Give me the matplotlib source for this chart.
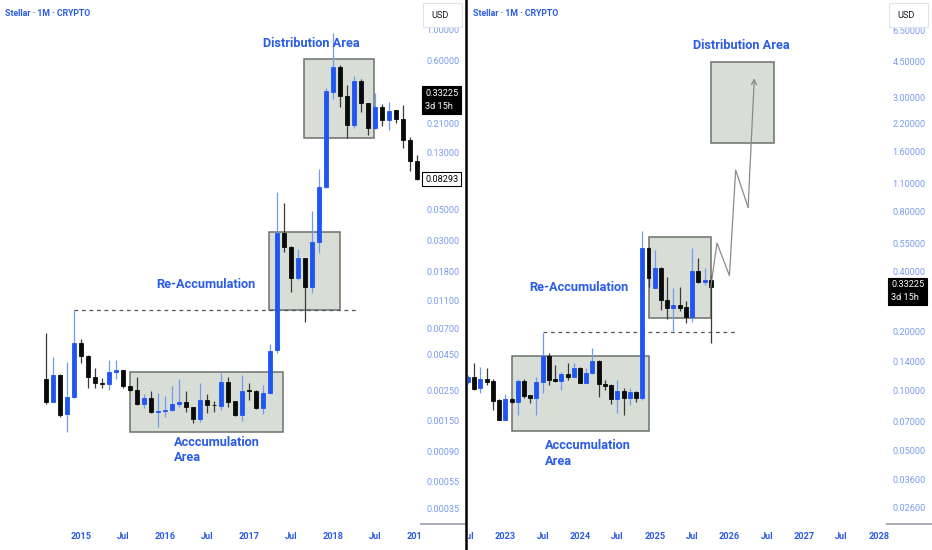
"""Stellar monthly chart: 2014-2019 cycle next to the 2022-2025 cycle."""

import matplotlib

matplotlib.use("Agg")
import matplotlib.font_manager as fm
import matplotlib.pyplot as plt
import pandas as pd
from matplotlib.lines import Line2D
from matplotlib.patches import Rectangle
from matplotlib.transforms import Bbox, TransformedBbox

# ---- data: left panel (monthly, Aug 2014 .. Jan 2019) ----
left_start = "2014-08"
left_open = [0.0030, 0.00206, 0.0032, 0.00168, 0.00224, 0.0055, 0.0044, 0.0031, 0.00283, 0.00276,
             0.0034, 0.0035, 0.00268, 0.00251, 0.00198, 0.00218, 0.00175, 0.00178, 0.0018, 0.00197,
             0.00204, 0.0019, 0.00155, 0.00212, 0.00196, 0.00193, 0.00285, 0.00208, 0.00166, 0.0025,
             0.00247, 0.00185, 0.00238, 0.00487, 0.034, 0.027, 0.016, 0.0223, 0.0139, 0.0294,
             0.073, 0.354, 0.53, 0.332, 0.204, 0.423, 0.295, 0.193, 0.2765, 0.2216,
             0.26, 0.224, 0.159, 0.1127]
left_high = [0.0065, 0.0043, 0.00327, 0.0040, 0.0095, 0.0058, 0.0045, 0.0036, 0.00306, 0.0041,
             0.0041, 0.0035, 0.0027, 0.0031, 0.00235, 0.00248, 0.0024, 0.00227, 0.0027, 0.0030,
             0.00248, 0.0019, 0.0028, 0.00235, 0.0021, 0.0033, 0.0031, 0.0021, 0.0032, 0.0028,
             0.0025, 0.00273, 0.0054, 0.067, 0.056, 0.0275, 0.026, 0.0225, 0.049, 0.099,
             0.375, 0.934, 0.55, 0.396, 0.46, 0.44, 0.296, 0.349, 0.289, 0.30,
             0.262, 0.284, 0.168, 0.124]
left_low = [0.00198, 0.00204, 0.00161, 0.00125, 0.0022, 0.0039, 0.0026, 0.0026, 0.00258, 0.0025,
            0.0030, 0.0026, 0.00247, 0.00195, 0.00185, 0.0017, 0.00136, 0.00161, 0.00178, 0.0019,
            0.00175, 0.00145, 0.00148, 0.00172, 0.00175, 0.0018, 0.0019, 0.00163, 0.0015, 0.00212,
            0.00182, 0.00168, 0.00236, 0.0046, 0.0249, 0.0128, 0.0155, 0.0078, 0.0126, 0.0245,
            0.072, 0.313, 0.277, 0.164, 0.193, 0.254, 0.173, 0.19, 0.20, 0.1877,
            0.21, 0.1385, 0.095, 0.0825]
left_close = [0.00206, 0.0032, 0.00166, 0.00224, 0.0055, 0.0044, 0.0031, 0.0028, 0.00276, 0.0034,
              0.0035, 0.00268, 0.00251, 0.00197, 0.00218, 0.00173, 0.00178, 0.0018, 0.00197, 0.00204,
              0.0019, 0.00155, 0.00212, 0.00195, 0.00194, 0.00285, 0.00206, 0.00166, 0.00248, 0.00246,
              0.00185, 0.00238, 0.0048, 0.034, 0.027, 0.0162, 0.0223, 0.0139, 0.0294, 0.073,
              0.36, 0.531, 0.332, 0.204, 0.423, 0.292, 0.193, 0.2765, 0.2216, 0.2586,
              0.224, 0.159, 0.1127, 0.08293]
left_yticks = [1.0, 0.6, 0.21, 0.13, 0.05, 0.03, 0.018, 0.011, 0.007, 0.0045,
               0.0025, 0.0015, 0.0009, 0.00055, 0.00035]
left_xlabels = ["2015", "Jul", "2016", "Jul", "2017", "Jul", "2018", "Jul", "2019"]

# ---- data: right panel (monthly, Jul 2022 .. Oct 2025) ----
right_start = "2022-07"
right_open = [0.111, 0.118, 0.1039, 0.1145, 0.1123, 0.0901, 0.0715, 0.0912, 0.0878, 0.1127,
              0.0951, 0.0917, 0.111, 0.150, 0.1145, 0.1123, 0.1218, 0.118, 0.130, 0.110,
              0.1228, 0.142, 0.1085, 0.107, 0.0909, 0.1004, 0.0917, 0.0992, 0.0917, 0.525,
              0.330, 0.416, 0.2866, 0.2622, 0.2705, 0.265, 0.236, 0.401, 0.3516, 0.361]
right_high = [0.120, 0.1387, 0.1324, 0.130, 0.1145, 0.091, 0.0966, 0.092, 0.1145, 0.1145,
              0.096, 0.118, 0.1948, 0.1548, 0.1351, 0.125, 0.1377, 0.1387, 0.1324, 0.130,
              0.164, 0.143, 0.1136, 0.108, 0.1136, 0.1031, 0.1031, 0.100, 0.637, 0.53,
              0.511, 0.42, 0.375, 0.330, 0.334, 0.2833, 0.521, 0.4677, 0.4137, 0.383]
right_low = [0.109, 0.1012, 0.098, 0.1072, 0.0803, 0.0712, 0.0712, 0.0875, 0.0758, 0.0917,
             0.0868, 0.0758, 0.0975, 0.1072, 0.1115, 0.1012, 0.1136, 0.117, 0.1095, 0.1095,
             0.122, 0.093, 0.1012, 0.086, 0.0778, 0.0758, 0.085, 0.0883, 0.090, 0.334,
             0.328, 0.2553, 0.230, 0.2002, 0.2524, 0.219, 0.2229, 0.35, 0.341, 0.1737]
right_close = [0.117, 0.1029, 0.1145, 0.1113, 0.0894, 0.0715, 0.0912, 0.0878, 0.1127, 0.0944,
               0.0917, 0.111, 0.150, 0.1136, 0.1123, 0.1218, 0.118, 0.130, 0.110, 0.1228,
               0.142, 0.1085, 0.106, 0.0909, 0.1004, 0.0917, 0.0992, 0.0917, 0.525, 0.368,
               0.416, 0.2866, 0.2622, 0.2705, 0.2622, 0.236, 0.401, 0.3516, 0.361, 0.33225]
right_yticks = [6.5, 4.5, 3.0, 2.2, 1.6, 1.1, 0.8, 0.55, 0.4, 0.2,
                0.14, 0.1, 0.07, 0.05, 0.036, 0.026]
right_xlabels = ["Jul", "2023", "Jul", "2024", "Jul", "2025", "Jul", "2026", "Jul", "2027", "Jul", "2028"]

# projected path (month offset from Jan 2023, price)
path_months = [33, 34, 36, 37, 39, 40]
path_prices = [0.33225, 0.554, 0.380, 1.29, 0.838, 3.727]
last_price = 0.33225

BLUE = "#1f56f2"
BLUE_WICK = "#6f9bf5"
BLACK = "#0a0a0a"
DARK_WICK = "#3a3a3a"
TEXT_BLUE = "#2a5ce6"
AXIS_BLUE = "#7c9bef"
BOX_FILL = "#d8ded6"
BOX_EDGE = "#6c716c"
NOTE_SIZE = 9.2

W, H = 932, 550

names = {f.name for f in fm.fontManager.ttflist}
narrow = "Liberation Sans Narrow" if "Liberation Sans Narrow" in names else "Roboto"
plt.rcParams["font.family"] = [narrow, "DejaVu Sans"]


def month_index(start, n, origin):
    months = pd.period_range(start, periods=n, freq="M")
    base = pd.Period(origin, freq="M")
    return [(p - base).n for p in months]


def draw_candles(axis, x, o, h, l, c):
    up = [ci >= oi for oi, ci in zip(o, c)]
    body_col = [BLUE if u else BLACK for u in up]
    wick_col = [BLUE_WICK if u else DARK_WICK for u in up]
    lo = [min(a, b) for a, b in zip(o, c)]
    hi = [max(a, b) for a, b in zip(o, c)]
    axis.vlines(x, l, h, colors=wick_col, lw=0.9, zorder=3)
    axis.bar(x, [b - a for a, b in zip(lo, hi)], bottom=lo, width=0.64,
             color=body_col, edgecolor=body_col, lw=0.6, zorder=4)


def add_box(axis, x0, x1, y0, y1):
    axis.add_patch(Rectangle((x0, y0), x1 - x0, y1 - y0, facecolor=BOX_FILL,
                             edgecolor=BOX_EDGE, lw=1.1, zorder=1))


def note(axis, x, y, text, ha="center"):
    axis.text(x, y, text, ha=ha, va="center", fontsize=NOTE_SIZE, fontweight="bold",
              color=TEXT_BLUE, linespacing=1.25, zorder=6)


def style_axis(axis, yticks, xticks, xlabels, ylim, xlim, clip_px):
    axis.set_yscale("log")
    axis.set_ylim(*ylim)
    axis.set_xlim(*xlim)
    for s in axis.spines.values():
        s.set_visible(False)
    axis.yaxis.tick_right()
    axis.yaxis.set_minor_locator(matplotlib.ticker.NullLocator())
    axis.set_yticks(yticks)
    axis.set_yticklabels([f"{v:.5f}" for v in yticks])
    axis.tick_params(axis="y", length=0, pad=4, labelsize=6.6, labelcolor=AXIS_BLUE)
    axis.set_xticks(xticks)
    axis.set_xticklabels(xlabels, fontweight="bold")
    axis.tick_params(axis="x", length=0, pad=6, labelsize=6.6, labelcolor=TEXT_BLUE)
    clip = TransformedBbox(Bbox.from_extents(clip_px[0] / W, 0, clip_px[1] / W, 1), fig.transFigure)
    for lbl in axis.get_xticklabels():
        lbl.set_clip_box(clip)
        lbl.set_clip_on(True)


def price_tag(axis, price, text, dark=True, dy=0.0):
    axis.annotate(text, xy=(1, price), xycoords=axis.get_yaxis_transform(),
                  xytext=(3, dy), textcoords="offset points", ha="left",
                  va="top" if dy else "center", fontsize=6.6, linespacing=1.6,
                  color="white" if dark else "black", annotation_clip=False,
                  bbox=dict(boxstyle="square,pad=0.3", fc="black" if dark else "white",
                            ec="black", lw=0.8), zorder=10)


fig = plt.figure(figsize=(W / 100, H / 100), dpi=100)
ax_l = fig.add_axes([0, 26 / H, 421 / W, 524 / H])
ax_r = fig.add_axes([468 / W, 26 / H, 419 / W, 524 / H])

# ---- left panel ----
xl = month_index(left_start, len(left_open), "2015-01")
draw_candles(ax_l, xl, left_open, left_high, left_low, left_close)
add_box(ax_l, 7.0, 28.86, 0.00125, 0.00339)
add_box(ax_l, 26.9, 37.0, 0.00946, 0.0343)
add_box(ax_l, 31.9, 41.9, 0.165, 0.61)
ax_l.hlines(left_high[4], xl[4], 39.6, colors="#555555", linestyles=(0, (3, 3)), lw=0.9, zorder=2)
note(ax_l, 32.96, 0.783, "Distribution Area")
note(ax_l, 17.86, 0.01456, "Re-Accumulation")
note(ax_l, 13.29, 0.000925, "Acccumulation\nArea", ha="left")
style_axis(ax_l, left_yticks, list(range(0, 49, 6)), left_xlabels,
           (2.709e-4, 1.625), (-81 / 7, 340 / 7), (0, 421))
price_tag(ax_l, last_price, "0.33225\n3d 15h", dy=5)
price_tag(ax_l, left_close[-1], f"{left_close[-1]:.5f}", dark=False)

# ---- right panel ----
xr = month_index(right_start, len(right_open), "2023-01")
draw_candles(ax_r, xr, right_open, right_high, right_low, right_close)
add_box(ax_r, 1.07, 23.07, 0.063, 0.150)
add_box(ax_r, 23.0, 33.07, 0.232, 0.596)
add_box(ax_r, 33.07, 43.1, 1.758, 4.52)
ax_r.hlines(0.197, 6.05, 36.9, colors="#555555", linestyles=(0, (3, 3)), lw=0.9, zorder=2)
ax_r.plot(path_months[:-1], path_prices[:-1], color="#8a8a8a", lw=0.9, zorder=5)
ax_r.annotate("", xy=(path_months[-1], path_prices[-1]), xytext=(path_months[-2], path_prices[-2]),
              arrowprops=dict(arrowstyle="->", color="#8a8a8a", lw=0.9, shrinkA=0, shrinkB=0,
                              mutation_scale=9), zorder=5)
note(ax_r, 37.88, 5.415, "Distribution Area")
note(ax_r, 11.83, 0.332, "Re-Accumulation")
note(ax_r, 6.37, 0.0484, "Acccumulation\nArea", ha="left")
style_axis(ax_r, right_yticks, list(range(-6, 61, 6)), right_xlabels,
           (0.02146, 9.22), (-37 / 6.23, 382 / 6.23), (468, 892))
price_tag(ax_r, last_price, "0.33225\n3d 15h", dy=5)

# ---- chrome: titles, USD boxes, divider ----
for x0 in (5, 473):
    fig.text(x0 / W, 1 - 14 / H, "Stellar · 1M · CRYPTO", ha="left", va="center",
             fontsize=6.3, fontweight="bold", color=TEXT_BLUE)
for x0 in (423, 889):
    fig.add_artist(Rectangle((x0 / W, 1 - 27 / H), 39 / W, 24 / H, transform=fig.transFigure,
                             facecolor="white", edgecolor="#e0e3eb", lw=0.8, zorder=8))
    fig.text((x0 + 8) / W, 1 - 15 / H, "USD", ha="left", va="center", fontsize=6.6,
             color="#131722", zorder=9)
for x0, x1 in ((421, 465), (887, 932)):
    fig.add_artist(Line2D([x0 / W, x1 / W], [26 / H, 26 / H], transform=fig.transFigure,
                          color="#a8abb3", lw=1.4))
fig.add_artist(Line2D([466 / W, 466 / W], [0, 1], transform=fig.transFigure, color="black", lw=1.8))

fig.savefig("out.png", dpi=100, facecolor="white")
